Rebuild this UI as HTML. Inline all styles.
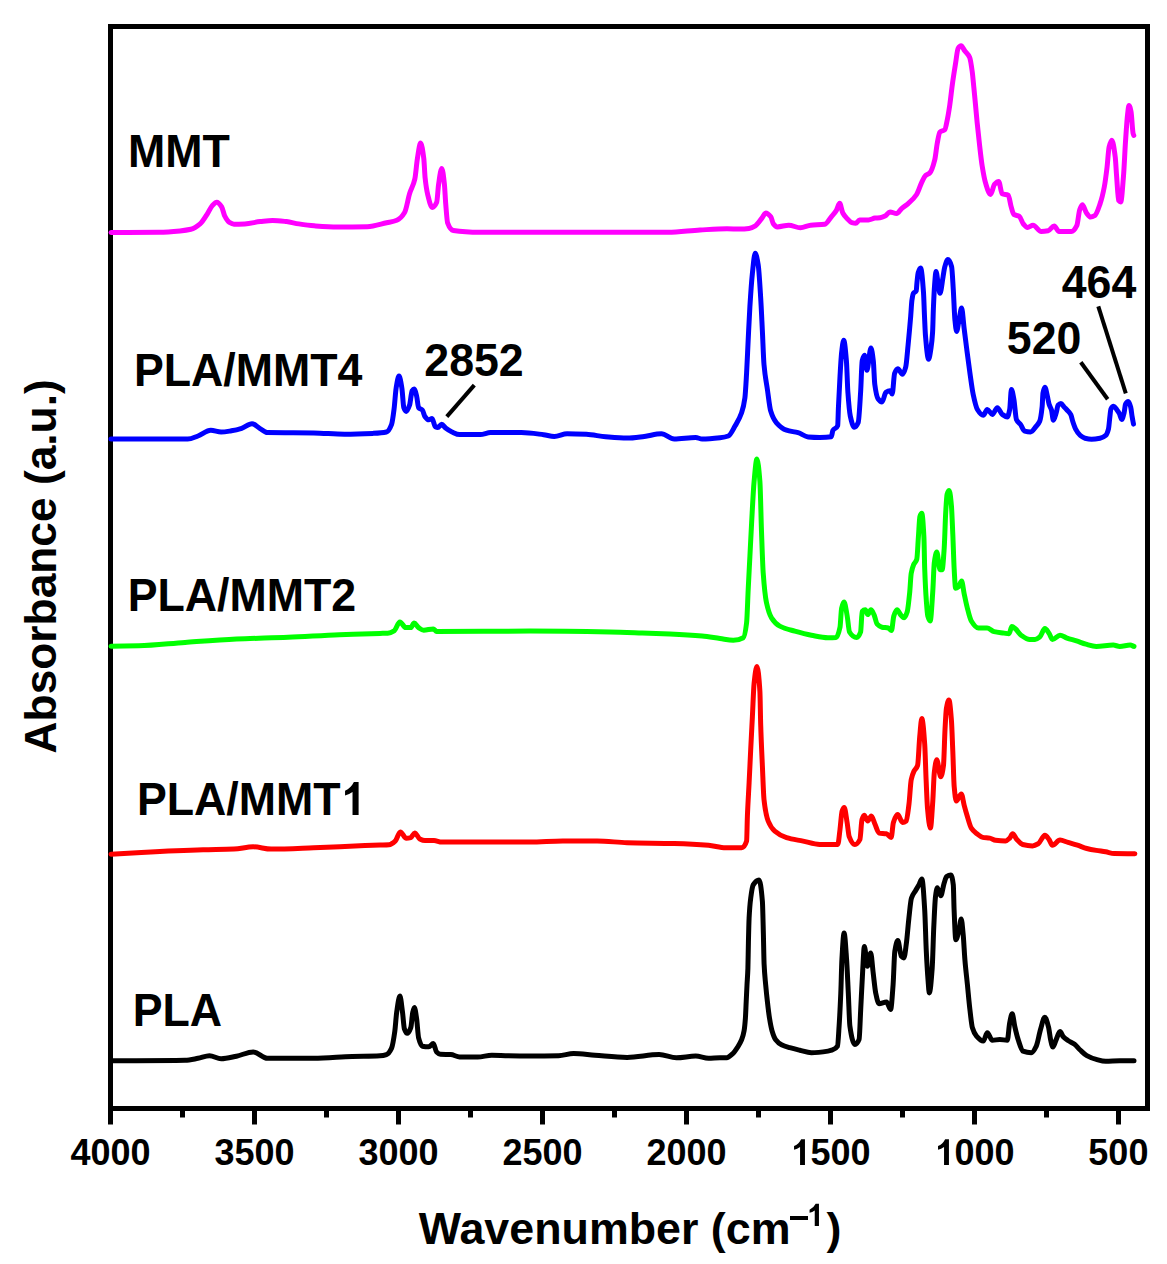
<!DOCTYPE html>
<html><head><meta charset="utf-8"><style>
html,body{margin:0;padding:0;background:#fff;overflow:hidden;width:1167px;height:1264px;}
svg{display:block;}
text{font-family:"Liberation Sans",sans-serif;font-weight:bold;fill:#000;}
.tl{font-size:36px;text-anchor:middle;}
.lb{font-size:44.7px;}
.at{font-size:44.8px;}
</style></head><body>
<svg width="1167" height="1264" viewBox="0 0 1167 1264">
<rect x="110.5" y="26.5" width="1037" height="1082" fill="none" stroke="#000" stroke-width="5"/>
<path d="M111.00,232.50C127.00,232.40 143.00,232.40 159.00,232.20C166.00,232.11 173.00,231.54 180.00,230.90C183.63,230.57 187.27,230.17 190.90,229.30C193.97,228.57 197.03,226.47 200.10,223.90C202.67,221.75 205.23,217.05 207.80,213.10C209.33,210.74 210.87,206.92 212.40,205.40C213.87,203.95 215.33,202.30 216.80,202.30C218.43,202.30 220.07,204.54 221.70,207.00C222.73,208.56 223.77,214.24 224.80,216.20C226.33,219.11 227.87,221.47 229.40,222.40C230.93,223.33 232.47,224.20 234.00,224.20C237.60,224.20 241.20,224.06 244.80,223.90C249.97,223.67 255.13,222.20 260.30,221.60C264.40,221.12 268.50,220.40 272.60,220.40C277.23,220.40 281.87,221.05 286.50,221.60C290.60,222.09 294.70,223.29 298.80,223.90C303.93,224.67 309.07,225.42 314.20,225.80C321.93,226.38 329.67,227.00 337.40,227.00C347.37,227.00 357.33,226.90 367.30,226.70C373.73,226.57 380.17,224.24 386.60,222.80C390.00,222.04 393.40,221.68 396.80,220.30C399.40,219.25 402.00,216.78 404.60,212.50C406.30,209.70 408.00,198.74 409.70,193.30C411.40,187.86 413.10,186.48 414.80,179.10C415.67,175.34 416.53,163.84 417.40,158.60C418.47,152.15 419.53,143.10 420.60,143.10C421.67,143.10 422.73,150.22 423.80,158.60C424.23,162.00 424.67,173.73 425.10,177.80C425.97,185.95 426.83,191.05 427.70,194.60C429.20,200.74 430.70,207.40 432.20,207.40C433.70,207.40 435.20,205.70 436.70,202.30C437.33,200.87 437.97,188.52 438.60,184.30C439.67,177.19 440.73,168.50 441.80,168.50C442.67,168.50 443.53,176.47 444.40,184.30C444.83,188.21 445.27,198.22 445.70,203.50C446.33,211.21 446.97,221.09 447.60,222.80C449.53,228.02 451.47,230.19 453.40,230.50C462.27,231.92 471.13,232.30 480.00,232.30C542.67,232.30 605.33,232.30 668.00,232.30C678.67,232.30 689.33,230.58 700.00,230.00C709.00,229.51 718.00,228.80 727.00,228.80C731.33,228.80 735.67,229.00 740.00,229.00C743.00,229.00 746.00,228.76 749.00,228.40C751.13,228.15 753.27,227.09 755.40,225.80C757.57,224.49 759.73,220.84 761.90,218.10C763.17,216.50 764.43,213.00 765.70,213.00C767.40,213.00 769.10,214.68 770.80,216.80C771.67,217.88 772.53,222.82 773.40,223.90C774.70,225.52 776.00,226.90 777.30,226.90C781.13,226.90 784.97,225.20 788.80,225.20C792.67,225.20 796.53,227.80 800.40,227.80C803.83,227.80 807.27,225.56 810.70,225.20C815.40,224.71 820.10,224.94 824.80,224.30C826.97,224.01 829.13,219.41 831.30,216.80C833.00,214.75 834.70,213.18 836.40,210.40C837.47,208.65 838.53,203.30 839.60,203.30C840.67,203.30 841.73,211.03 842.80,213.00C844.10,215.41 845.40,216.72 846.70,218.10C848.40,219.91 850.10,222.11 851.80,222.60C853.10,222.98 854.40,223.30 855.70,223.30C856.97,223.30 858.23,220.00 859.50,220.00C862.50,220.00 865.50,220.00 868.50,220.00C870.67,220.00 872.83,218.37 875.00,218.10C876.67,217.90 878.33,217.92 880.00,217.70C881.67,217.48 883.33,216.80 885.00,216.00C886.67,215.20 888.33,211.90 890.00,211.90C892.20,211.90 894.40,213.60 896.60,213.60C898.27,213.60 899.93,210.05 901.60,208.60C903.80,206.69 906.00,205.55 908.20,203.60C911.00,201.12 913.80,198.82 916.60,194.50C918.23,191.98 919.87,186.10 921.50,182.80C922.90,179.97 924.30,176.67 925.70,175.40C927.07,174.16 928.43,174.23 929.80,172.90C931.47,171.28 933.13,166.25 934.80,159.60C935.63,156.28 936.47,147.36 937.30,143.00C938.13,138.64 938.97,133.02 939.80,132.20C941.47,130.56 943.13,131.32 944.80,129.70C945.63,128.89 946.47,123.69 947.30,119.70C948.13,115.71 948.97,110.49 949.80,104.80C950.63,99.11 951.47,90.83 952.30,84.80C953.40,76.84 954.50,70.05 955.60,63.20C956.43,58.01 957.27,49.55 958.10,48.30C959.10,46.80 960.10,45.80 961.10,45.80C962.30,45.80 963.50,49.17 964.70,50.80C966.37,53.06 968.03,53.57 969.70,57.40C970.53,59.31 971.37,65.44 972.20,71.50C972.77,75.62 973.33,82.38 973.90,88.10C974.43,93.48 974.97,99.16 975.50,104.80C976.07,110.79 976.63,117.33 977.20,123.00C978.03,131.34 978.87,139.14 979.70,146.30C980.53,153.46 981.37,161.01 982.20,166.20C983.30,173.05 984.40,179.20 985.50,182.80C987.17,188.26 988.83,194.50 990.50,194.50C991.87,194.50 993.23,185.63 994.60,184.20C995.97,182.77 997.33,181.50 998.70,181.50C999.83,181.50 1000.97,193.27 1002.10,193.80C1004.17,194.76 1006.23,194.20 1008.30,195.20C1009.20,195.64 1010.10,203.02 1011.00,206.10C1011.93,209.29 1012.87,213.74 1013.80,214.40C1015.63,215.70 1017.47,215.25 1019.30,216.40C1020.67,217.26 1022.03,222.43 1023.40,224.00C1024.77,225.57 1026.13,227.40 1027.50,227.40C1029.33,227.40 1031.17,225.30 1033.00,225.30C1035.73,225.30 1038.47,231.50 1041.20,231.50C1043.50,231.50 1045.80,231.22 1048.10,230.80C1050.13,230.43 1052.17,226.00 1054.20,226.00C1055.80,226.00 1057.40,231.50 1059.00,231.50C1063.13,231.50 1067.27,231.50 1071.40,231.50C1073.23,231.50 1075.07,229.02 1076.90,225.30C1077.80,223.47 1078.70,212.85 1079.60,210.20C1080.50,207.55 1081.40,204.80 1082.30,204.80C1083.70,204.80 1085.10,211.15 1086.50,213.00C1087.87,214.81 1089.23,217.10 1090.60,217.10C1091.97,217.10 1093.33,216.48 1094.70,215.70C1096.53,214.65 1098.37,208.75 1100.20,203.40C1101.57,199.42 1102.93,194.06 1104.30,186.90C1105.20,182.18 1106.10,175.15 1107.00,167.70C1107.70,161.90 1108.40,150.11 1109.10,147.20C1110.00,143.46 1110.90,140.30 1111.80,140.30C1112.93,140.30 1114.07,148.10 1115.20,156.80C1115.67,160.38 1116.13,170.07 1116.60,176.00C1117.30,184.89 1118.00,199.68 1118.70,200.60C1119.37,201.47 1120.03,202.00 1120.70,202.00C1121.63,202.00 1122.57,187.43 1123.50,176.00C1124.17,167.83 1124.83,151.59 1125.50,141.70C1126.20,131.31 1126.90,120.15 1127.60,114.30C1128.07,110.40 1128.53,105.40 1129.00,105.40C1129.67,105.40 1130.33,108.36 1131.00,111.50C1131.70,114.79 1132.40,130.63 1133.10,133.50C1133.33,134.46 1133.57,134.83 1133.80,135.50" fill="none" stroke="#ff00ff" stroke-width="5" stroke-linejoin="round" stroke-linecap="round"/>
<path d="M111.00,439.10C136.57,439.10 162.13,439.10 187.70,439.10C191.13,439.10 194.57,437.22 198.00,436.00C202.27,434.48 206.53,430.30 210.80,430.30C214.23,430.30 217.67,432.10 221.10,432.10C224.53,432.10 227.97,431.37 231.40,430.80C234.83,430.23 238.27,429.38 241.70,428.30C245.13,427.22 248.57,423.70 252.00,423.70C254.57,423.70 257.13,426.82 259.70,428.30C262.27,429.78 264.83,432.56 267.40,432.60C282.83,432.86 298.27,432.72 313.70,432.90C323.97,433.02 334.23,434.20 344.50,434.20C353.93,434.20 363.37,433.85 372.80,433.40C377.33,433.18 381.87,433.00 386.40,432.00C388.13,431.62 389.87,428.76 391.60,424.30C392.43,422.15 393.27,415.30 394.10,408.80C394.77,403.60 395.43,392.38 396.10,388.30C397.07,382.38 398.03,376.10 399.00,376.10C399.97,376.10 400.93,382.38 401.90,388.30C402.53,392.18 403.17,405.87 403.80,407.60C404.63,409.88 405.47,411.40 406.30,411.40C407.40,411.40 408.50,408.25 409.60,405.00C410.43,402.53 411.27,392.12 412.10,390.80C412.77,389.74 413.43,388.90 414.10,388.90C414.93,388.90 415.77,392.78 416.60,396.00C417.27,398.57 417.93,406.74 418.60,407.60C419.87,409.23 421.13,408.73 422.40,410.10C423.27,411.04 424.13,415.47 425.00,416.60C426.27,418.25 427.53,419.80 428.80,419.80C429.90,419.80 431.00,418.50 432.10,418.50C433.17,418.50 434.23,426.28 435.30,426.80C436.13,427.21 436.97,427.50 437.80,427.50C439.10,427.50 440.40,424.30 441.70,424.30C443.00,424.30 444.30,427.11 445.60,428.10C447.73,429.73 449.87,431.06 452.00,432.00C454.57,433.13 457.13,434.60 459.70,434.60C466.57,434.60 473.43,434.60 480.30,434.60C483.70,434.60 487.10,432.60 490.50,432.60C500.80,432.60 511.10,432.60 521.40,432.60C528.80,432.60 536.20,433.80 543.60,434.70C547.17,435.14 550.73,436.40 554.30,436.40C558.57,436.40 562.83,433.80 567.10,433.80C573.53,433.80 579.97,434.02 586.40,434.30C592.83,434.58 599.27,436.26 605.70,436.80C612.83,437.39 619.97,438.10 627.10,438.10C632.83,438.10 638.57,437.09 644.30,436.40C650.00,435.72 655.70,433.80 661.40,433.80C665.67,433.80 669.93,439.00 674.20,439.00C681.37,439.00 688.53,437.50 695.70,437.50C697.83,437.50 699.97,439.00 702.10,439.00C708.07,439.00 714.03,438.38 720.00,437.70C722.77,437.39 725.53,437.02 728.30,436.00C730.53,435.17 732.77,429.91 735.00,426.10C737.20,422.35 739.40,419.22 741.60,412.80C742.70,409.59 743.80,405.89 744.90,397.80C745.47,393.63 746.03,382.65 746.60,372.90C747.13,363.73 747.67,350.43 748.20,339.70C748.77,328.29 749.33,315.58 749.90,306.50C750.73,293.14 751.57,280.97 752.40,273.20C753.33,264.50 754.27,253.30 755.20,253.30C756.20,253.30 757.20,258.81 758.20,264.90C759.03,269.98 759.87,284.75 760.70,298.10C761.27,307.18 761.83,319.98 762.40,331.40C762.93,342.15 763.47,358.47 764.00,364.60C765.13,377.62 766.27,381.67 767.40,389.50C768.50,397.10 769.60,407.53 770.70,411.10C772.63,417.37 774.57,420.62 776.50,422.80C779.83,426.56 783.17,429.07 786.50,430.20C790.37,431.51 794.23,431.59 798.10,432.70C801.43,433.66 804.77,436.63 808.10,436.90C811.97,437.21 815.83,437.40 819.70,437.40C823.57,437.40 827.43,437.31 831.30,436.70C831.83,436.62 832.37,431.34 832.90,430.40C834.50,427.57 836.10,429.59 837.70,425.60C837.93,425.02 838.17,413.41 838.40,408.20C838.93,396.28 839.47,385.65 840.00,376.60C840.53,367.55 841.07,357.45 841.60,352.80C842.30,346.70 843.00,340.20 843.70,340.20C844.60,340.20 845.50,350.25 846.40,360.80C846.90,366.66 847.40,385.48 847.90,392.40C848.70,403.47 849.50,412.46 850.30,416.10C851.63,422.16 852.97,427.20 854.30,427.20C855.60,427.20 856.90,425.56 858.20,422.50C859.00,420.62 859.80,404.86 860.60,392.40C861.13,384.09 861.67,363.15 862.20,360.80C863.00,357.28 863.80,355.20 864.60,355.20C865.37,355.20 866.13,370.30 866.90,370.30C868.23,370.30 869.57,348.10 870.90,348.10C871.70,348.10 872.50,354.20 873.30,360.80C873.80,364.92 874.30,380.78 874.80,384.50C875.87,392.43 876.93,397.22 878.00,398.70C879.33,400.56 880.67,401.90 882.00,401.90C883.30,401.90 884.60,393.30 885.90,392.40C887.23,391.48 888.57,390.80 889.90,390.80C890.67,390.80 891.43,394.00 892.20,394.00C893.00,394.00 893.80,375.48 894.60,373.40C895.67,370.63 896.73,368.70 897.80,368.70C899.37,368.70 900.93,374.20 902.50,374.20C903.57,374.20 904.63,371.03 905.70,367.10C906.50,364.15 907.30,352.87 908.10,344.90C908.57,340.25 909.03,335.16 909.50,330.00C909.90,325.57 910.30,321.11 910.70,316.20C911.10,311.29 911.50,303.23 911.90,300.40C912.40,296.86 912.90,294.08 913.40,293.30C914.33,291.84 915.27,292.66 916.20,290.90C916.47,290.40 916.73,284.67 917.00,282.20C917.40,278.50 917.80,274.05 918.20,272.70C919.00,270.01 919.80,268.00 920.60,268.00C921.57,268.00 922.53,279.45 923.50,292.50C923.83,297.00 924.17,309.01 924.50,316.20C924.83,323.39 925.17,332.08 925.50,336.00C926.53,348.16 927.57,359.20 928.60,359.20C929.40,359.20 930.20,353.22 931.00,348.00C931.53,344.52 932.07,340.44 932.60,332.00C932.87,327.78 933.13,314.64 933.40,308.30C933.80,298.78 934.20,290.20 934.60,285.00C935.07,278.93 935.53,271.50 936.00,271.50C936.73,271.50 937.47,280.04 938.20,284.00C938.80,287.24 939.40,293.30 940.00,293.30C941.03,293.30 942.07,282.43 943.10,276.60C943.63,273.59 944.17,269.11 944.70,267.20C945.77,263.38 946.83,259.50 947.90,259.50C949.13,259.50 950.37,262.02 951.60,266.60C952.17,268.70 952.73,280.85 953.30,289.80C953.83,298.23 954.37,314.31 954.90,319.70C955.47,325.43 956.03,331.40 956.60,331.40C957.43,331.40 958.27,323.58 959.10,319.70C959.93,315.82 960.77,308.10 961.60,308.10C962.43,308.10 963.27,321.45 964.10,328.10C964.93,334.75 965.77,341.54 966.60,348.00C967.70,356.53 968.80,365.19 969.90,372.90C971.00,380.61 972.10,389.36 973.20,394.50C974.60,401.05 976.00,407.24 977.40,409.50C979.33,412.61 981.27,415.30 983.20,415.30C984.57,415.30 985.93,409.50 987.30,409.50C988.97,409.50 990.63,414.40 992.30,414.40C993.97,414.40 995.63,407.80 997.30,407.80C998.97,407.80 1000.63,413.19 1002.30,414.40C1003.97,415.61 1005.63,416.90 1007.30,416.90C1008.10,416.90 1008.90,413.54 1009.70,409.50C1010.27,406.64 1010.83,389.50 1011.40,389.50C1012.23,389.50 1013.07,395.06 1013.90,399.50C1014.73,403.94 1015.57,417.53 1016.40,419.40C1017.77,422.47 1019.13,422.51 1020.50,424.40C1021.90,426.33 1023.30,430.73 1024.70,431.10C1026.63,431.61 1028.57,431.90 1030.50,431.90C1032.43,431.90 1034.37,428.40 1036.30,426.10C1037.43,424.75 1038.57,423.98 1039.70,421.30C1040.50,419.41 1041.30,414.48 1042.10,407.10C1042.40,404.33 1042.70,394.64 1043.00,393.00C1043.63,389.53 1044.27,387.30 1044.90,387.30C1045.70,387.30 1046.50,392.54 1047.30,395.80C1047.90,398.25 1048.50,402.37 1049.10,404.30C1049.90,406.87 1050.70,407.32 1051.50,410.00C1052.13,412.12 1052.77,420.30 1053.40,420.30C1054.33,420.30 1055.27,415.83 1056.20,412.80C1056.83,410.74 1057.47,405.94 1058.10,405.20C1059.03,404.12 1059.97,403.40 1060.90,403.40C1062.00,403.40 1063.10,405.92 1064.20,407.10C1065.13,408.10 1066.07,408.95 1067.00,410.00C1068.27,411.42 1069.53,412.26 1070.80,414.70C1071.43,415.92 1072.07,419.37 1072.70,421.30C1073.63,424.15 1074.57,427.03 1075.50,428.80C1077.07,431.76 1078.63,434.11 1080.20,435.40C1081.80,436.72 1083.40,437.80 1085.00,438.20C1087.17,438.74 1089.33,439.20 1091.50,439.20C1094.33,439.20 1097.17,438.76 1100.00,438.20C1101.90,437.82 1103.80,437.07 1105.70,435.40C1106.63,434.58 1107.57,432.51 1108.50,428.80C1108.97,426.95 1109.43,420.26 1109.90,416.50C1110.23,413.81 1110.57,409.67 1110.90,409.00C1111.83,407.13 1112.77,406.20 1113.70,406.20C1114.80,406.20 1115.90,408.54 1117.00,410.00C1117.80,411.06 1118.60,412.18 1119.40,413.70C1120.17,415.16 1120.93,419.40 1121.70,419.40C1122.50,419.40 1123.30,415.93 1124.10,412.80C1124.57,410.97 1125.03,405.17 1125.50,404.30C1126.43,402.56 1127.37,401.50 1128.30,401.50C1129.10,401.50 1129.90,404.21 1130.70,407.10C1131.17,408.79 1131.63,413.70 1132.10,416.50C1132.57,419.30 1133.03,421.57 1133.50,424.10" fill="none" stroke="#0000ff" stroke-width="5" stroke-linejoin="round" stroke-linecap="round"/>
<path d="M111.00,646.30C120.27,646.13 129.53,646.05 138.80,645.80C154.23,645.38 169.67,643.46 185.10,642.40C202.23,641.22 219.37,639.88 236.50,639.10C253.67,638.32 270.83,638.01 288.00,637.30C305.13,636.59 322.27,635.37 339.40,634.70C352.93,634.17 366.47,633.78 380.00,633.40C382.57,633.33 385.13,633.33 387.70,633.20C389.83,633.09 391.97,632.10 394.10,630.80C396.03,629.62 397.97,621.90 399.90,621.90C401.83,621.90 403.77,627.60 405.70,627.60C407.40,627.60 409.10,627.60 410.80,627.60C411.90,627.60 413.00,623.10 414.10,623.10C415.60,623.10 417.10,626.58 418.60,627.60C420.30,628.76 422.00,630.20 423.70,630.20C426.90,630.20 430.10,628.90 433.30,628.90C434.40,628.90 435.50,631.50 436.60,631.50C467.73,631.50 498.87,631.10 530.00,631.10C556.67,631.10 583.33,631.46 610.00,631.90C620.70,632.07 631.40,632.53 642.10,632.90C651.40,633.22 660.70,633.55 670.00,634.00C680.70,634.52 691.40,635.13 702.10,636.10C708.07,636.64 714.03,637.72 720.00,638.50C724.43,639.08 728.87,640.20 733.30,640.20C736.63,640.20 739.97,639.56 743.30,637.70C744.40,637.09 745.50,631.62 746.60,622.80C747.13,618.52 747.67,600.25 748.20,589.50C748.77,578.08 749.33,567.37 749.90,556.30C750.47,545.23 751.03,533.33 751.60,523.10C752.43,508.05 753.27,490.56 754.10,481.50C755.03,471.35 755.97,459.10 756.90,459.10C757.90,459.10 758.90,468.65 759.90,481.50C760.43,488.35 760.97,516.78 761.50,531.40C762.07,546.94 762.63,565.03 763.20,572.90C764.30,588.19 765.40,597.67 766.50,602.80C768.17,610.58 769.83,615.19 771.50,617.80C774.27,622.13 777.03,624.65 779.80,626.10C784.80,628.73 789.80,629.68 794.80,631.10C800.33,632.67 805.87,634.16 811.40,635.20C816.93,636.24 822.47,637.70 828.00,637.70C830.70,637.70 833.40,637.65 836.10,637.50C837.40,637.43 838.70,633.36 840.00,627.20C840.53,624.67 841.07,610.59 841.60,608.20C842.40,604.61 843.20,601.90 844.00,601.90C845.07,601.90 846.13,610.26 847.20,616.10C847.97,620.29 848.73,630.76 849.50,632.00C851.87,635.82 854.23,637.50 856.60,637.50C857.93,637.50 859.27,635.74 860.60,632.00C861.13,630.50 861.67,611.99 862.20,611.40C863.23,610.26 864.27,609.80 865.30,609.80C866.10,609.80 866.90,614.60 867.70,614.60C868.77,614.60 869.83,609.80 870.90,609.80C871.93,609.80 872.97,612.50 874.00,614.60C875.07,616.77 876.13,622.92 877.20,624.10C878.80,625.87 880.40,626.85 882.00,627.20C884.10,627.66 886.20,627.51 888.30,628.00C889.37,628.25 890.43,630.40 891.50,630.40C892.27,630.40 893.03,618.46 893.80,616.10C894.87,612.82 895.93,609.80 897.00,609.80C898.33,609.80 899.67,613.99 901.00,615.30C902.03,616.31 903.07,617.70 904.10,617.70C905.17,617.70 906.23,614.86 907.30,611.40C908.10,608.80 908.90,600.34 909.70,592.40C910.20,587.44 910.70,576.34 911.20,573.40C912.00,568.69 912.80,566.60 913.60,564.70C914.67,562.17 915.73,562.77 916.80,559.20C917.33,557.41 917.87,544.34 918.40,537.00C918.90,530.12 919.40,518.05 919.90,516.50C920.53,514.54 921.17,513.30 921.80,513.30C922.50,513.30 923.20,523.59 923.90,537.00C924.17,542.11 924.43,561.40 924.70,568.70C925.23,583.30 925.77,593.00 926.30,600.30C926.80,607.15 927.30,614.33 927.80,616.10C928.60,618.94 929.40,620.90 930.20,620.90C931.07,620.90 931.93,603.68 932.80,591.00C933.30,583.69 933.80,566.28 934.30,562.60C935.13,556.46 935.97,551.90 936.80,551.90C937.87,551.90 938.93,569.70 940.00,569.70C940.70,569.70 941.40,569.70 942.10,569.70C942.80,569.70 943.50,558.51 944.20,548.30C944.70,541.01 945.20,521.16 945.70,512.70C946.17,504.80 946.63,495.69 947.10,494.20C947.80,491.96 948.50,490.60 949.20,490.60C949.93,490.60 950.67,497.82 951.40,505.60C951.87,510.55 952.33,523.55 952.80,534.10C953.27,544.65 953.73,561.58 954.20,569.70C954.67,577.82 955.13,588.20 955.60,588.20C956.57,588.20 957.53,587.53 958.50,586.80C959.53,586.01 960.57,581.10 961.60,581.10C962.47,581.10 963.33,589.79 964.20,593.90C965.13,598.33 966.07,603.07 967.00,606.70C968.43,612.28 969.87,618.69 971.30,621.00C973.67,624.81 976.03,628.10 978.40,628.10C981.27,628.10 984.13,628.10 987.00,628.10C989.37,628.10 991.73,631.04 994.10,631.60C997.43,632.39 1000.77,632.61 1004.10,633.10C1005.73,633.34 1007.37,633.80 1009.00,633.80C1009.97,633.80 1010.93,626.60 1011.90,626.60C1013.07,626.60 1014.23,627.88 1015.40,628.80C1017.30,630.30 1019.20,633.85 1021.10,635.20C1023.97,637.24 1026.83,639.50 1029.70,639.50C1031.47,639.50 1033.23,639.50 1035.00,639.50C1036.57,639.50 1038.13,638.31 1039.70,637.10C1041.43,635.76 1043.17,628.60 1044.90,628.60C1046.30,628.60 1047.70,631.40 1049.10,633.40C1050.20,634.97 1051.30,639.50 1052.40,639.50C1054.93,639.50 1057.47,635.20 1060.00,635.20C1062.33,635.20 1064.67,637.29 1067.00,638.10C1070.17,639.20 1073.33,639.89 1076.50,640.90C1079.63,641.90 1082.77,643.37 1085.90,644.20C1089.37,645.12 1092.83,646.40 1096.30,646.40C1101.93,646.40 1107.57,645.10 1113.20,645.10C1115.40,645.10 1117.60,646.40 1119.80,646.40C1123.27,646.40 1126.73,645.10 1130.20,645.10C1131.47,645.10 1132.73,645.97 1134.00,646.40" fill="none" stroke="#00ff00" stroke-width="5" stroke-linejoin="round" stroke-linecap="round"/>
<path d="M111.00,854.20C121.13,853.60 131.27,852.91 141.40,852.40C161.97,851.37 182.53,850.39 203.10,849.80C213.40,849.51 223.70,849.51 234.00,849.10C240.40,848.84 246.80,846.80 253.20,846.80C259.20,846.80 265.20,849.10 271.20,849.10C285.37,849.10 299.53,848.31 313.70,847.80C330.83,847.18 347.97,846.14 365.10,845.50C370.07,845.31 375.03,845.17 380.00,845.00C383.00,844.90 386.00,844.90 389.00,844.70C391.13,844.56 393.27,842.79 395.40,840.80C397.03,839.28 398.67,831.90 400.30,831.90C402.30,831.90 404.30,838.30 406.30,838.30C407.80,838.30 409.30,838.02 410.80,837.60C412.10,837.24 413.40,832.90 414.70,832.90C416.40,832.90 418.10,838.03 419.80,838.90C421.53,839.79 423.27,840.60 425.00,840.60C428.00,840.60 431.00,840.60 434.00,840.60C436.57,840.60 439.13,842.10 441.70,842.10C471.13,842.10 500.57,842.10 530.00,842.10C540.93,842.10 551.87,841.00 562.80,841.00C574.23,841.00 585.67,841.00 597.10,841.00C607.10,841.00 617.10,842.40 627.10,842.70C642.80,843.17 658.50,843.16 674.20,843.60C685.63,843.92 697.07,844.41 708.50,845.30C714.23,845.75 719.97,847.80 725.70,847.80C731.00,847.80 736.30,847.78 741.60,847.70C743.27,847.67 744.93,846.53 746.60,841.10C746.87,840.23 747.13,822.69 747.40,816.10C747.97,802.09 748.53,794.31 749.10,782.90C749.63,772.17 750.17,760.43 750.70,749.70C751.27,738.29 751.83,727.58 752.40,716.50C752.97,705.42 753.53,688.59 754.10,683.20C755.03,674.32 755.97,666.60 756.90,666.60C757.90,666.60 758.90,675.61 759.90,691.50C760.17,695.74 760.43,716.33 760.70,724.80C761.27,742.80 761.83,753.60 762.40,766.30C762.93,778.25 763.47,794.67 764.00,799.50C765.40,812.18 766.80,817.69 768.20,821.10C770.40,826.47 772.60,829.21 774.80,831.10C778.70,834.45 782.60,836.50 786.50,837.70C792.03,839.41 797.57,839.98 803.10,841.10C808.63,842.22 814.17,844.34 819.70,844.40C825.73,844.47 831.77,844.50 837.80,844.50C838.53,844.50 839.27,835.14 840.00,829.50C840.70,824.11 841.40,812.96 842.10,811.00C842.80,809.04 843.50,807.50 844.20,807.50C845.17,807.50 846.13,816.71 847.10,822.40C847.80,826.52 848.50,834.81 849.20,836.60C851.10,841.46 853.00,844.50 854.90,844.50C856.57,844.50 858.23,842.89 859.90,839.50C860.60,838.08 861.30,821.88 862.00,819.60C862.73,817.21 863.47,815.30 864.20,815.30C865.37,815.30 866.53,821.00 867.70,821.00C868.90,821.00 870.10,816.00 871.30,816.00C872.47,816.00 873.63,821.24 874.80,823.80C876.23,826.95 877.67,832.81 879.10,833.10C881.47,833.58 883.83,833.37 886.20,833.80C887.87,834.10 889.53,837.40 891.20,837.40C891.93,837.40 892.67,824.68 893.40,822.40C894.80,818.05 896.20,814.60 897.60,814.60C899.27,814.60 900.93,822.40 902.60,822.40C903.80,822.40 905.00,821.91 906.20,821.00C907.13,820.29 908.07,811.32 909.00,803.90C909.73,798.07 910.47,783.30 911.20,779.70C912.13,775.11 913.07,773.08 914.00,771.10C915.20,768.56 916.40,769.06 917.60,765.40C918.30,763.27 919.00,744.47 919.70,737.00C920.40,729.53 921.10,718.50 921.80,718.50C922.77,718.50 923.73,730.67 924.70,744.10C925.17,750.58 925.63,769.15 926.10,779.70C926.57,790.25 927.03,803.12 927.50,808.20C928.47,818.73 929.43,828.10 930.40,828.10C931.20,828.10 932.00,812.54 932.80,801.00C933.30,793.79 933.80,776.86 934.30,772.60C935.13,765.50 935.97,759.70 936.80,759.70C938.10,759.70 939.40,776.80 940.70,776.80C941.63,776.80 942.57,772.38 943.50,765.40C944.00,761.66 944.50,739.05 945.00,729.80C945.47,721.17 945.93,711.28 946.40,708.50C947.23,703.53 948.07,699.90 948.90,699.90C949.73,699.90 950.57,709.62 951.40,719.90C951.87,725.65 952.33,740.10 952.80,751.20C953.27,762.30 953.73,781.61 954.20,786.80C954.90,794.58 955.60,801.00 956.30,801.00C957.97,801.00 959.63,793.90 961.30,793.90C962.27,793.90 963.23,801.68 964.20,805.30C965.13,808.79 966.07,812.25 967.00,815.30C968.43,819.98 969.87,825.90 971.30,828.10C973.20,831.01 975.10,832.33 977.00,833.80C978.90,835.27 980.80,837.07 982.70,837.40C985.07,837.81 987.43,837.72 989.80,838.10C991.70,838.40 993.60,839.96 995.50,840.20C998.83,840.62 1002.17,840.90 1005.50,840.90C1006.90,840.90 1008.30,839.42 1009.70,838.10C1010.67,837.19 1011.63,833.80 1012.60,833.80C1014.03,833.80 1015.47,837.97 1016.90,839.50C1018.80,841.53 1020.70,844.01 1022.60,844.50C1025.90,845.36 1029.20,845.90 1032.50,845.90C1034.40,845.90 1036.30,844.87 1038.20,843.80C1040.43,842.54 1042.67,835.30 1044.90,835.30C1046.30,835.30 1047.70,837.79 1049.10,839.60C1050.20,841.02 1051.30,845.20 1052.40,845.20C1054.93,845.20 1057.47,840.10 1060.00,840.10C1062.67,840.10 1065.33,841.62 1068.00,842.40C1071.13,843.32 1074.27,844.19 1077.40,845.20C1080.53,846.21 1083.67,847.70 1086.80,848.50C1089.97,849.31 1093.13,849.86 1096.30,850.40C1099.43,850.93 1102.57,851.26 1105.70,851.80C1108.53,852.28 1111.37,853.44 1114.20,853.50C1121.10,853.65 1128.00,853.63 1134.90,853.70" fill="none" stroke="#ff0000" stroke-width="5" stroke-linejoin="round" stroke-linecap="round"/>
<path d="M111.00,1060.80C135.70,1060.63 160.40,1060.71 185.10,1060.30C189.40,1060.23 193.70,1059.09 198.00,1058.30C201.83,1057.59 205.67,1055.70 209.50,1055.70C213.37,1055.70 217.23,1058.80 221.10,1058.80C226.23,1058.80 231.37,1057.24 236.50,1056.20C242.07,1055.07 247.63,1051.90 253.20,1051.90C257.93,1051.90 262.67,1058.30 267.40,1058.30C282.83,1058.30 298.27,1058.30 313.70,1058.30C326.53,1058.30 339.37,1056.91 352.20,1056.50C361.47,1056.20 370.73,1056.29 380.00,1055.80C382.13,1055.69 384.27,1055.31 386.40,1054.60C388.13,1054.02 389.87,1051.77 391.60,1048.10C392.67,1045.84 393.73,1038.96 394.80,1031.40C395.43,1026.91 396.07,1016.47 396.70,1012.10C397.77,1004.74 398.83,996.10 399.90,996.10C400.77,996.10 401.63,1005.77 402.50,1012.10C403.13,1016.73 403.77,1027.00 404.40,1028.80C405.33,1031.45 406.27,1033.30 407.20,1033.30C408.40,1033.30 409.60,1030.97 410.80,1027.60C411.47,1025.73 412.13,1014.80 412.80,1012.10C413.33,1009.94 413.87,1007.60 414.40,1007.60C415.13,1007.60 415.87,1013.75 416.60,1018.60C417.27,1023.01 417.93,1035.24 418.60,1037.80C419.87,1042.67 421.13,1045.95 422.40,1046.20C424.53,1046.62 426.67,1046.80 428.80,1046.80C430.30,1046.80 431.80,1043.60 433.30,1043.60C434.40,1043.60 435.50,1050.91 436.60,1052.00C437.87,1053.26 439.13,1054.22 440.40,1054.30C443.83,1054.52 447.27,1054.42 450.70,1054.60C453.70,1054.76 456.70,1056.83 459.70,1056.90C465.70,1057.04 471.70,1057.10 477.70,1057.10C482.40,1057.10 487.10,1055.20 491.80,1055.20C497.37,1055.20 502.93,1055.72 508.50,1055.80C515.67,1055.91 522.83,1056.00 530.00,1056.00C539.53,1056.00 549.07,1055.90 558.60,1055.70C563.60,1055.59 568.60,1053.60 573.60,1053.60C580.73,1053.60 587.87,1054.78 595.00,1055.30C605.70,1056.07 616.40,1057.40 627.10,1057.40C637.80,1057.40 648.50,1054.60 659.20,1054.60C664.93,1054.60 670.67,1057.80 676.40,1057.80C682.83,1057.80 689.27,1056.10 695.70,1056.10C699.97,1056.10 704.23,1058.30 708.50,1058.30C712.33,1058.30 716.17,1057.70 720.00,1057.70C722.23,1057.70 724.47,1057.70 726.70,1057.70C728.63,1057.70 730.57,1055.61 732.50,1053.90C734.17,1052.43 735.83,1049.87 737.50,1047.30C738.87,1045.19 740.23,1043.22 741.60,1039.80C742.43,1037.72 743.27,1035.32 744.10,1030.70C744.53,1028.30 744.97,1024.07 745.40,1018.20C745.67,1014.59 745.93,1007.13 746.20,1001.60C746.47,996.07 746.73,990.23 747.00,985.00C747.30,979.12 747.60,976.81 747.90,968.30C748.07,963.57 748.23,950.13 748.40,943.10C748.63,933.25 748.87,922.69 749.10,918.10C749.63,907.60 750.17,902.29 750.70,898.20C751.53,891.80 752.37,886.27 753.20,884.90C755.13,881.73 757.07,879.90 759.00,879.90C760.13,879.90 761.27,887.70 762.40,901.50C762.73,905.56 763.07,922.33 763.40,934.80C763.63,943.53 763.87,959.23 764.10,964.20C764.63,975.57 765.17,979.04 765.70,985.00C766.27,991.33 766.83,996.63 767.40,1001.60C768.10,1007.74 768.80,1013.88 769.50,1018.20C770.33,1023.34 771.17,1027.89 772.00,1030.70C773.23,1034.86 774.47,1038.17 775.70,1039.80C777.63,1042.36 779.57,1043.81 781.50,1044.80C784.27,1046.21 787.03,1046.89 789.80,1047.70C793.10,1048.67 796.40,1049.43 799.70,1050.20C803.60,1051.10 807.50,1052.70 811.40,1052.70C816.93,1052.70 822.47,1051.95 828.00,1051.10C829.20,1050.92 830.40,1050.63 831.60,1050.20C833.57,1049.50 835.53,1049.22 837.50,1046.10C838.03,1045.25 838.57,1034.21 839.10,1026.10C839.67,1017.48 840.23,1006.55 840.80,992.90C841.17,984.07 841.53,966.35 841.90,959.70C842.63,946.41 843.37,933.10 844.10,933.10C844.93,933.10 845.77,948.00 846.60,959.70C847.17,967.65 847.73,981.49 848.30,992.90C848.83,1003.63 849.37,1022.33 849.90,1026.10C851.57,1037.89 853.23,1044.40 854.90,1044.40C856.30,1044.40 857.70,1043.01 859.10,1039.40C859.63,1038.03 860.17,1019.68 860.70,1009.50C861.27,998.68 861.83,985.93 862.40,976.30C863.07,964.97 863.73,946.40 864.40,946.40C865.40,946.40 866.40,966.30 867.40,966.30C868.50,966.30 869.60,953.00 870.70,953.00C871.53,953.00 872.37,966.35 873.20,973.00C874.03,979.65 874.87,988.96 875.70,992.90C876.80,998.10 877.90,1003.70 879.00,1003.70C881.50,1003.70 884.00,1002.00 886.50,1002.00C887.87,1002.00 889.23,1009.50 890.60,1009.50C891.43,1009.50 892.27,995.82 893.10,984.60C893.67,976.97 894.23,955.08 894.80,951.40C895.80,944.91 896.80,940.60 897.80,940.60C899.00,940.60 900.20,955.12 901.40,956.40C902.23,957.29 903.07,958.00 903.90,958.00C904.73,958.00 905.57,949.32 906.40,943.10C907.23,936.88 908.07,925.49 908.90,918.10C909.73,910.71 910.57,900.81 911.40,898.20C912.77,893.92 914.13,893.11 915.50,890.70C916.63,888.70 917.77,886.96 918.90,884.90C919.90,883.09 920.90,879.10 921.90,879.10C922.83,879.10 923.77,894.85 924.70,909.80C925.23,918.34 925.77,940.57 926.30,951.40C926.87,962.90 927.43,972.50 928.00,979.60C928.43,985.03 928.87,992.90 929.30,992.90C930.27,992.90 931.23,981.11 932.20,968.00C932.73,960.77 933.27,937.70 933.80,926.50C934.37,914.60 934.93,900.96 935.50,896.60C936.10,891.98 936.70,887.80 937.30,887.80C938.47,887.80 939.63,895.70 940.80,895.70C941.90,895.70 943.00,886.72 944.10,883.30C944.93,880.71 945.77,877.19 946.60,876.60C948.00,875.60 949.40,875.00 950.80,875.00C951.63,875.00 952.47,878.15 953.30,884.90C953.57,887.06 953.83,903.60 954.10,909.80C954.67,922.98 955.23,939.70 955.80,939.70C956.90,939.70 958.00,934.05 959.10,929.80C959.80,927.09 960.50,919.00 961.20,919.00C961.87,919.00 962.53,927.90 963.20,934.80C963.77,940.66 964.33,952.90 964.90,959.70C965.73,969.70 966.57,976.30 967.40,984.60C968.23,992.90 969.07,1002.47 969.90,1009.50C970.73,1016.53 971.57,1025.03 972.40,1027.80C973.77,1032.34 975.13,1034.55 976.50,1036.10C978.73,1038.63 980.97,1041.10 983.20,1041.10C984.57,1041.10 985.93,1032.80 987.30,1032.80C988.97,1032.80 990.63,1040.30 992.30,1040.30C994.80,1040.30 997.30,1039.40 999.80,1039.40C1002.30,1039.40 1004.80,1040.30 1007.30,1040.30C1008.10,1040.30 1008.90,1026.69 1009.70,1022.80C1010.53,1018.74 1011.37,1013.70 1012.20,1013.70C1013.03,1013.70 1013.87,1022.43 1014.70,1026.10C1015.83,1031.09 1016.97,1035.99 1018.10,1039.40C1019.73,1044.32 1021.37,1050.47 1023.00,1051.10C1025.77,1052.16 1028.53,1052.70 1031.30,1052.70C1032.97,1052.70 1034.63,1049.45 1036.30,1046.10C1037.70,1043.29 1039.10,1034.15 1040.50,1029.50C1041.93,1024.74 1043.37,1017.20 1044.80,1017.20C1046.03,1017.20 1047.27,1022.30 1048.50,1027.00C1049.20,1029.67 1049.90,1036.63 1050.60,1039.60C1051.37,1042.85 1052.13,1047.10 1052.90,1047.10C1054.00,1047.10 1055.10,1042.01 1056.20,1039.60C1057.47,1036.83 1058.73,1031.60 1060.00,1031.60C1061.10,1031.60 1062.20,1035.62 1063.30,1036.80C1064.87,1038.48 1066.43,1039.45 1068.00,1040.50C1070.20,1041.98 1072.40,1042.67 1074.60,1044.30C1076.47,1045.68 1078.33,1048.27 1080.20,1050.00C1082.40,1052.04 1084.60,1054.38 1086.80,1055.60C1089.97,1057.36 1093.13,1058.55 1096.30,1059.40C1099.43,1060.24 1102.57,1061.30 1105.70,1061.30C1110.40,1061.30 1115.10,1060.80 1119.80,1060.80C1124.53,1060.80 1129.27,1060.80 1134.00,1060.80" fill="none" stroke="#000000" stroke-width="5" stroke-linejoin="round" stroke-linecap="round"/>
<line x1="110.50" y1="1108.5" x2="110.50" y2="1124.5" stroke="#000" stroke-width="5"/>
<line x1="182.50" y1="1108.5" x2="182.50" y2="1117.5" stroke="#000" stroke-width="5"/>
<line x1="254.50" y1="1108.5" x2="254.50" y2="1124.5" stroke="#000" stroke-width="5"/>
<line x1="326.50" y1="1108.5" x2="326.50" y2="1117.5" stroke="#000" stroke-width="5"/>
<line x1="398.50" y1="1108.5" x2="398.50" y2="1124.5" stroke="#000" stroke-width="5"/>
<line x1="470.50" y1="1108.5" x2="470.50" y2="1117.5" stroke="#000" stroke-width="5"/>
<line x1="542.50" y1="1108.5" x2="542.50" y2="1124.5" stroke="#000" stroke-width="5"/>
<line x1="614.50" y1="1108.5" x2="614.50" y2="1117.5" stroke="#000" stroke-width="5"/>
<line x1="686.50" y1="1108.5" x2="686.50" y2="1124.5" stroke="#000" stroke-width="5"/>
<line x1="758.50" y1="1108.5" x2="758.50" y2="1117.5" stroke="#000" stroke-width="5"/>
<line x1="830.50" y1="1108.5" x2="830.50" y2="1124.5" stroke="#000" stroke-width="5"/>
<line x1="902.50" y1="1108.5" x2="902.50" y2="1117.5" stroke="#000" stroke-width="5"/>
<line x1="974.50" y1="1108.5" x2="974.50" y2="1124.5" stroke="#000" stroke-width="5"/>
<line x1="1046.50" y1="1108.5" x2="1046.50" y2="1117.5" stroke="#000" stroke-width="5"/>
<line x1="1118.50" y1="1108.5" x2="1118.50" y2="1124.5" stroke="#000" stroke-width="5"/>
<text x="110.50" y="1165" class="tl">4000</text>
<text x="254.49" y="1165" class="tl">3500</text>
<text x="398.47" y="1165" class="tl">3000</text>
<text x="542.45" y="1165" class="tl">2500</text>
<text x="686.44" y="1165" class="tl">2000</text>
<path transform="translate(790.38,1165.00) scale(36)" d="M0.405,-0.716L0.405,0L0.269,0L0.269,-0.5Q0.19,-0.445,0.102,-0.425L0.102,-0.526Q0.23,-0.58,0.3,-0.716Z"/>
<text x="810.40" y="1165" class="tl" style="text-anchor:start">500</text>
<path transform="translate(934.36,1165.00) scale(36)" d="M0.405,-0.716L0.405,0L0.269,0L0.269,-0.5Q0.19,-0.445,0.102,-0.425L0.102,-0.526Q0.23,-0.58,0.3,-0.716Z"/>
<text x="954.39" y="1165" class="tl" style="text-anchor:start">000</text>
<text x="1118.39" y="1165" class="tl">500</text>
<line x1="446.8" y1="416.6" x2="474.3" y2="385.1" stroke="#000" stroke-width="4"/>
<line x1="1080.8" y1="362.2" x2="1107.7" y2="399.2" stroke="#000" stroke-width="4"/>
<line x1="1098.3" y1="306.3" x2="1125.8" y2="393.3" stroke="#000" stroke-width="4"/>
<text transform="translate(128,167) scale(1,1.03)" class="lb">MMT</text>
<text transform="translate(134,386) scale(1,1.03)" class="lb">PLA/MMT4</text>
<text transform="translate(127.7,611) scale(1,1.03)" class="lb">PLA/MMT2</text>
<text transform="translate(136.9,815) scale(1,1.03)" class="lb">PLA/MMT</text>
<g transform="translate(136.9,815) scale(1,1.03)"><path transform="translate(203.60,0.00) scale(44.7)" d="M0.405,-0.716L0.405,0L0.269,0L0.269,-0.5Q0.19,-0.445,0.102,-0.425L0.102,-0.526Q0.23,-0.58,0.3,-0.716Z"/></g>
<text transform="translate(132.7,1026) scale(1,1.03)" class="lb">PLA</text>
<text transform="translate(424.3,376) scale(1,1.03)" class="lb">2852</text>
<text transform="translate(1006.8,354) scale(1,1.03)" class="lb">520</text>
<text transform="translate(1061.7,298) scale(1,1.03)" class="lb">464</text>
<text x="418.8" y="1244" class="at">Wavenumber (cm</text>
<rect x="790" y="1216" width="18" height="4"/>
<path transform="translate(806.40,1226.00) scale(31)" d="M0.405,-0.716L0.405,0L0.269,0L0.269,-0.5Q0.19,-0.445,0.102,-0.425L0.102,-0.526Q0.23,-0.58,0.3,-0.716Z"/>
<text x="826.5" y="1244" class="at">)</text>
<text transform="translate(56,753.4) rotate(-90)" x="0" y="0" style="font-size:44.3px">Absorbance (a.u.)</text>
</svg>
</body></html>
